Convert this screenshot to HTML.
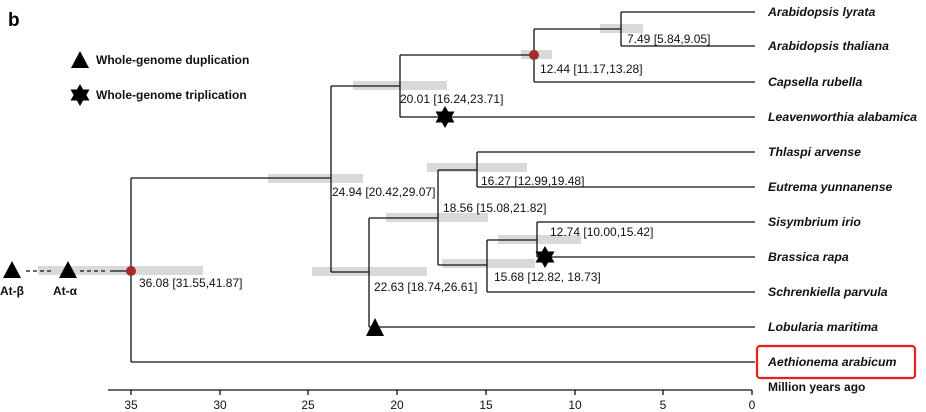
<!DOCTYPE html>
<html><head><meta charset="utf-8"><style>
html,body{margin:0;padding:0;background:#fff;}
svg{display:block;font-family:"Liberation Sans",Arial,sans-serif;}
.l{font-size:12px;fill:#111;}
.s{font-size:12.3px;font-weight:bold;font-style:italic;fill:#111;}
.b{font-size:12px;font-weight:bold;fill:#111;}
</style></head><body>
<svg width="926" height="412" viewBox="0 0 926 412">
<defs>
<g id="star"><polygon points="0,-11 9.5,5.5 -9.5,5.5"/><polygon points="0,11 9.5,-5.5 -9.5,-5.5"/></g>
</defs>
<rect width="926" height="412" fill="#fff"/>
<text x="8" y="26" font-size="19" font-weight="bold">b</text>
<g fill="#d9d9d9">
<rect x="600" y="24" width="43" height="9"/>
<rect x="521" y="50" width="31" height="9"/>
<rect x="353" y="81" width="94" height="9"/>
<rect x="268" y="174" width="95" height="9"/>
<rect x="427" y="163" width="100" height="9"/>
<rect x="386" y="213" width="102" height="9"/>
<rect x="498" y="235" width="83" height="9"/>
<rect x="442" y="259" width="93" height="9"/>
<rect x="312" y="267" width="115" height="9"/>
<rect x="38" y="266" width="165" height="9"/>
</g>
<g stroke="#111" stroke-width="1.3" fill="none">
<path d="M621 12H755M621 46H755M534 82H755M400 117H755M477 152H755M477 187H755M537 222H755M537 257H755M487 292H755M369 327H755M131 362H755"/>
<path d="M621 12V46M534 29H621M534 29V82M400 55H534M400 55V117M331 86H400M331 86V272M131 178H331"/>
<path d="M369 272H331M369 218V327M438 218H369M438 170V265M477 170H438M477 152V187M487 265H438M487 240V292M537 240H487M537 222V257"/>
<path d="M131 178V362M110 271H131"/>
<path d="M26 271H54M80 271H106" stroke-dasharray="4,3"/>
<path d="M108 390H752"/>
<path d="M131 390V395M220 390V395M308 390V395M397 390V395M486 390V395M575 390V395M663 390V395M752 390V395"/>
</g>
<circle cx="534" cy="55" r="5" fill="#a52a2a"/>
<circle cx="131" cy="271" r="5" fill="#a52a2a"/>
<g fill="#000">
<polygon points="80,51 71,68 89,68"/>
<polygon points="12,261 3,278 21,278"/>
<polygon points="68,261 59,278 77,278"/>
<polygon points="375,318 366,336 384,336"/>
<use href="#star" x="80" y="95"/>
<use href="#star" x="445" y="117"/>
<use href="#star" x="545" y="257"/>
</g>
<text class="b" x="96" y="64">Whole-genome duplication</text>
<text class="b" x="96" y="99">Whole-genome triplication</text>
<text class="b" x="0" y="295">At-β</text>
<text class="b" x="53" y="295">At-α</text>
<text class="l" x="627" y="43">7.49 [5.84,9.05]</text>
<text class="l" x="540" y="73">12.44 [11.17,13.28]</text>
<text class="l" x="400" y="103">20.01 [16.24,23.71]</text>
<text class="l" x="332" y="196">24.94 [20.42,29.07]</text>
<text class="l" x="481" y="185">16.27 [12.99,19.48]</text>
<text class="l" x="443" y="212">18.56 [15.08,21.82]</text>
<text class="l" x="550" y="236">12.74 [10.00,15.42]</text>
<text class="l" x="494" y="281">15.68 [12.82, 18.73]</text>
<text class="l" x="374" y="291">22.63 [18.74,26.61]</text>
<text class="l" x="139" y="287">36.08 [31.55,41.87]</text>
<text class="s" x="768" y="16">Arabidopsis lyrata</text>
<text class="s" x="768" y="50">Arabidopsis thaliana</text>
<text class="s" x="768" y="86">Capsella rubella</text>
<text class="s" x="768" y="121">Leavenworthia alabamica</text>
<text class="s" x="768" y="156">Thlaspi arvense</text>
<text class="s" x="768" y="191">Eutrema yunnanense</text>
<text class="s" x="768" y="226">Sisymbrium irio</text>
<text class="s" x="768" y="261">Brassica rapa</text>
<text class="s" x="768" y="296">Schrenkiella parvula</text>
<text class="s" x="768" y="331">Lobularia maritima</text>
<rect x="757" y="346" width="158" height="32" rx="3" fill="none" stroke="#e8221b" stroke-width="2.2"/>
<text class="s" x="768" y="366">Aethionema arabicum</text>
<text class="b" x="768" y="391">Million years ago</text>
<g class="l" text-anchor="middle">
<text x="131" y="409">35</text><text x="220" y="409">30</text><text x="308" y="409">25</text><text x="397" y="409">20</text>
<text x="486" y="409">15</text><text x="575" y="409">10</text><text x="663" y="409">5</text><text x="752" y="409">0</text>
</g>
</svg>
</body></html>
